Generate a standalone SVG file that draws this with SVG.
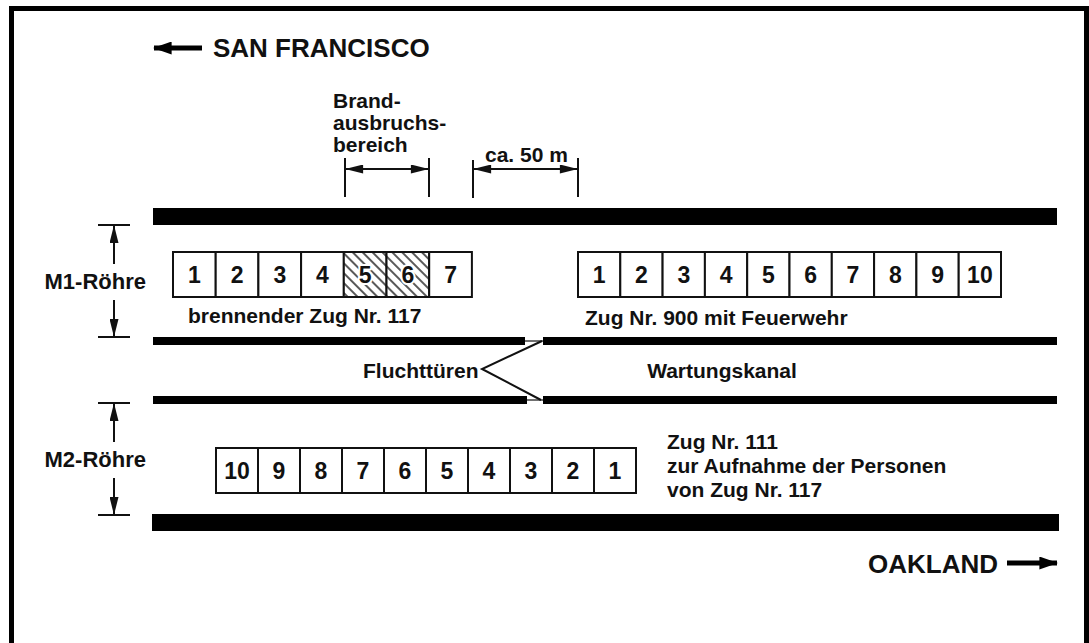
<svg xmlns="http://www.w3.org/2000/svg" width="1089" height="643" viewBox="0 0 1089 643">
<style>
.t{font-family:"Liberation Sans",Arial,sans-serif;font-weight:bold;fill:#111}
.lbl{font-size:21px}
.side{font-size:22px}
.big{font-size:26px}
.dg{font-size:23px;text-anchor:middle}
.halo{stroke:#fff;stroke-width:4;paint-order:stroke;stroke-linejoin:round}
.bar{fill:#000}
.car{fill:#fff;stroke:#111;stroke-width:2}
.hcar{fill:url(#hatch);stroke:#111;stroke-width:2}
.dim{stroke:#111;stroke-width:2;fill:none}
.dir{stroke:#000;stroke-width:5;fill:none}
</style>
<defs>
<marker id="ah" viewBox="0 0 20 10" refX="19" refY="5" markerWidth="21" markerHeight="9" markerUnits="userSpaceOnUse" orient="auto-start-reverse">
<path d="M0,0 L20,5 L0,10 z" fill="#111"/>
</marker>
<marker id="bigah" viewBox="0 0 20 14" refX="19" refY="7" markerWidth="20" markerHeight="13" markerUnits="userSpaceOnUse" orient="auto-start-reverse">
<path d="M0,0 L20,7 L0,14 z" fill="#000"/>
</marker>
<pattern id="hatch" patternUnits="userSpaceOnUse" width="7" height="7" patternTransform="rotate(-45)">
<rect width="7" height="7" fill="#fff"/>
<line x1="1" y1="0" x2="1" y2="7" stroke="#222" stroke-width="1.5"/>
</pattern>
</defs>
<rect width="1089" height="643" fill="#fff"/>
<g id="frame">
<rect x="9" y="6" width="1080" height="5" class="bar"/>
<rect x="9" y="6" width="5" height="637" class="bar"/>
<rect x="1084" y="6" width="5" height="637" class="bar"/>
</g>
<g id="walls">
<rect x="153" y="208" width="904" height="17" class="bar"/>
<rect x="153" y="337" width="372" height="8" class="bar"/>
<rect x="543" y="337" width="514" height="8" class="bar"/>
<rect x="153" y="396" width="374" height="8" class="bar"/>
<rect x="543" y="396" width="514" height="8" class="bar"/>
<rect x="152" y="514" width="907" height="17" class="bar"/>
<line x1="525" y1="341" x2="543" y2="341" stroke="#111" stroke-width="1.2"/>
<line x1="527" y1="400" x2="543" y2="400" stroke="#111" stroke-width="1.2"/>
</g>
<g id="direction-sf">
<line x1="154" y1="48" x2="202" y2="48" class="dir" marker-start="url(#bigah)"/>
<text x="213" y="57" class="t big">SAN FRANCISCO</text>
</g>
<g id="direction-oakland">
<text x="868" y="573" class="t big">OAKLAND</text>
<line x1="1007" y1="563" x2="1057" y2="563" class="dir" marker-end="url(#bigah)"/>
</g>
<g id="brand-zone">
<text class="t lbl" x="333"><tspan x="333" y="108">Brand-</tspan><tspan x="333" y="130">ausbruchs-</tspan><tspan x="333" y="152">bereich</tspan></text>
<line x1="345" y1="158" x2="345" y2="197" class="dim"/>
<line x1="429" y1="158" x2="429" y2="197" class="dim"/>
<line x1="346" y1="169" x2="428" y2="169" class="dim" marker-start="url(#ah)" marker-end="url(#ah)"/>
</g>
<g id="distance-50m">
<text x="485" y="162" class="t lbl">ca. 50 m</text>
<line x1="473" y1="160" x2="473" y2="198" class="dim"/>
<line x1="578" y1="158" x2="578" y2="197" class="dim"/>
<line x1="474" y1="169" x2="577" y2="169" class="dim" marker-start="url(#ah)" marker-end="url(#ah)"/>
</g>
<g id="m1-dim">
<line x1="98" y1="225" x2="130" y2="225" class="dim"/>
<line x1="98" y1="337" x2="130" y2="337" class="dim"/>
<line x1="114" y1="264" x2="114" y2="226" class="dim" marker-end="url(#ah)"/>
<line x1="114" y1="300" x2="114" y2="336" class="dim" marker-end="url(#ah)"/>
<text x="146" y="289" class="t side" text-anchor="end">M1-Röhre</text>
</g>
<g id="m2-dim">
<line x1="98" y1="403" x2="130" y2="403" class="dim"/>
<line x1="98" y1="515" x2="130" y2="515" class="dim"/>
<line x1="114" y1="442" x2="114" y2="404" class="dim" marker-end="url(#ah)"/>
<line x1="114" y1="478" x2="114" y2="514" class="dim" marker-end="url(#ah)"/>
<text x="146" y="467" class="t side" text-anchor="end">M2-Röhre</text>
</g>
<g id="train-117">
<rect x="173" y="252" width="42.7" height="45" class="car"/>
<rect x="215.7" y="252" width="42.7" height="45" class="car"/>
<rect x="258.4" y="252" width="42.7" height="45" class="car"/>
<rect x="301.1" y="252" width="42.7" height="45" class="car"/>
<rect x="343.8" y="252" width="42.7" height="45" class="hcar"/>
<rect x="386.5" y="252" width="42.7" height="45" class="hcar"/>
<rect x="429.2" y="252" width="42.7" height="45" class="car"/>
<text class="t dg" y="283"><tspan x="194.4">1</tspan><tspan x="237.1">2</tspan><tspan x="279.8">3</tspan><tspan x="322.5">4</tspan><tspan x="450.6">7</tspan></text>
<text class="t dg halo" y="283"><tspan x="365.2">5</tspan><tspan x="407.9">6</tspan></text>
<text x="188" y="323" class="t lbl">brennender Zug Nr. 117</text>
</g>
<g id="train-900">
<rect x="578" y="252" width="42.3" height="45" class="car"/>
<rect x="620.3" y="252" width="42.3" height="45" class="car"/>
<rect x="662.6" y="252" width="42.3" height="45" class="car"/>
<rect x="704.9" y="252" width="42.3" height="45" class="car"/>
<rect x="747.2" y="252" width="42.3" height="45" class="car"/>
<rect x="789.5" y="252" width="42.3" height="45" class="car"/>
<rect x="831.8" y="252" width="42.3" height="45" class="car"/>
<rect x="874.1" y="252" width="42.3" height="45" class="car"/>
<rect x="916.4" y="252" width="42.3" height="45" class="car"/>
<rect x="958.7" y="252" width="42.3" height="45" class="car"/>
<text class="t dg" y="283"><tspan x="599.2">1</tspan><tspan x="641.5">2</tspan><tspan x="683.8">3</tspan><tspan x="726.1">4</tspan><tspan x="768.4">5</tspan><tspan x="810.7">6</tspan><tspan x="853">7</tspan><tspan x="895.3">8</tspan><tspan x="937.6">9</tspan><tspan x="979.9">10</tspan></text>
<text x="585" y="325" class="t lbl">Zug Nr. 900 mit Feuerwehr</text>
</g>
<g id="escape-doors">
<text x="363" y="378" class="t lbl">Fluchttüren</text>
<polyline points="542,341 482,369 541,400" fill="none" stroke="#111" stroke-width="2"/>
</g>
<g id="maintenance-channel">
<text x="722" y="378" class="t lbl" text-anchor="middle">Wartungskanal</text>
</g>
<g id="train-111">
<rect x="216" y="448" width="42" height="45" class="car"/>
<rect x="258" y="448" width="42" height="45" class="car"/>
<rect x="300" y="448" width="42" height="45" class="car"/>
<rect x="342" y="448" width="42" height="45" class="car"/>
<rect x="384" y="448" width="42" height="45" class="car"/>
<rect x="426" y="448" width="42" height="45" class="car"/>
<rect x="468" y="448" width="42" height="45" class="car"/>
<rect x="510" y="448" width="42" height="45" class="car"/>
<rect x="552" y="448" width="42" height="45" class="car"/>
<rect x="594" y="448" width="42" height="45" class="car"/>
<text class="t dg" y="479"><tspan x="237">10</tspan><tspan x="279">9</tspan><tspan x="321">8</tspan><tspan x="363">7</tspan><tspan x="405">6</tspan><tspan x="447">5</tspan><tspan x="489">4</tspan><tspan x="531">3</tspan><tspan x="573">2</tspan><tspan x="615">1</tspan></text>
<text class="t lbl"><tspan x="667" y="449">Zug Nr. 111</tspan><tspan x="667" y="473">zur Aufnahme der Personen</tspan><tspan x="667" y="497">von Zug Nr. 117</tspan></text>
</g>
</svg>
